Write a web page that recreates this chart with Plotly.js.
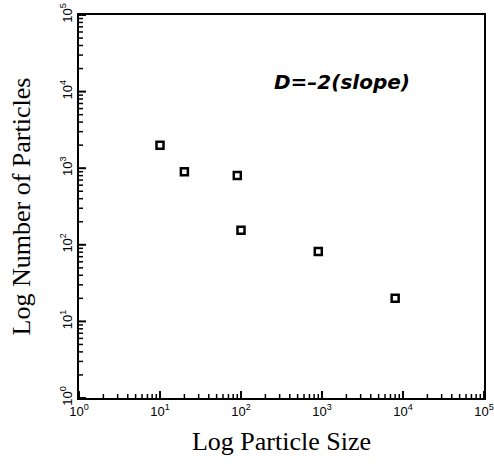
<!DOCTYPE html>
<html><head><meta charset="utf-8">
<script src="https://cdn.plot.ly/plotly-3.0.1.min.js"></script>
<style>html,body{margin:0;padding:0;background:#fff}</style>
</head><body>
<div id="chart" style="width:494px;height:464px"></div>
<script>
const particleSize = [10, 20, 90, 100, 900, 8000];
const particleCount = [2000, 900, 800, 155, 82, 20];
const tickValues = [1, 10, 100, 1000, 10000, 100000];
const tickLabels = ['10<sup>0</sup>','10<sup>1</sup>','10<sup>2</sup>','10<sup>3</sup>','10<sup>4</sup>','10<sup>5</sup>'];
const minorDigits = [2, 3, 4, 5, 6, 7, 8, 9];

const W = 494, H = 464;
const M = {l: 79, r: 10, t: 15, b: 66};
const plotW = W - M.l - M.r, plotH = H - M.t - M.b;
const decades = 5;
const majorLen = 7, minorLen = 4;

const minorValues = [];
tickValues.slice(0, -1).forEach(d => minorDigits.forEach(m => minorValues.push(d * m)));

// inside tick marks as line traces built from the tick arrays
function tickTrace(vals, len, width) {
  const xs = [], ys = [];
  const xEnd = Math.pow(10, decades * len / plotH);
  const yEnd = Math.pow(10, decades * len / plotW);
  vals.forEach(v => {
    xs.push(v, v, null); ys.push(tickValues[0], xEnd, null);
    xs.push(tickValues[0], yEnd, null); ys.push(v, v, null);
  });
  return {x: xs, y: ys, mode: 'lines', type: 'scatter', hoverinfo: 'skip', cliponaxis: false,
    line: {color: 'black', width: width}};
}

function axisBase() {
  return {
    type: 'log',
    range: [0, decades],
    showgrid: false,
    zeroline: false,
    showline: true,
    linecolor: 'black',
    linewidth: 2,
    mirror: true,
    ticks: '',
    tickmode: 'array',
    tickvals: tickValues,
    ticktext: tickLabels,
    tickfont: {family: 'Liberation Sans, Arial', size: 13, color: 'black'}
  };
}

const data = [
  tickTrace(tickValues, majorLen, 2),
  tickTrace(minorValues, minorLen, 1.5),
  {
    x: particleSize,
    y: particleCount,
    mode: 'markers',
    type: 'scatter',
    marker: {symbol: 'square-open', size: 7, color: 'black', line: {width: 2.5, color: 'black'}}
  }
];

const layout = {
  width: W, height: H,
  margin: M,
  showlegend: false,
  xaxis: Object.assign(axisBase(), {
    title: {text: 'Log Particle Size', font: {family: 'Liberation Serif, Times New Roman', size: 26, color: 'black'}, standoff: 14}
  }),
  yaxis: Object.assign(axisBase(), {
    tickangle: -90,
    title: {text: 'Log Number of Particles', font: {family: 'Liberation Serif, Times New Roman', size: 26, color: 'black'}, standoff: 20}
  }),
  annotations: [{
    x: 3.25, y: 4.13, xref: 'x', yref: 'y',
    text: '<b><i>D=–2(slope)</i></b>',
    showarrow: false,
    font: {family: 'DejaVu Sans', size: 20, color: 'black'}
  }]
};

Plotly.newPlot('chart', data, layout, {displayModeBar: false, staticPlot: true});
</script>
</body></html>
